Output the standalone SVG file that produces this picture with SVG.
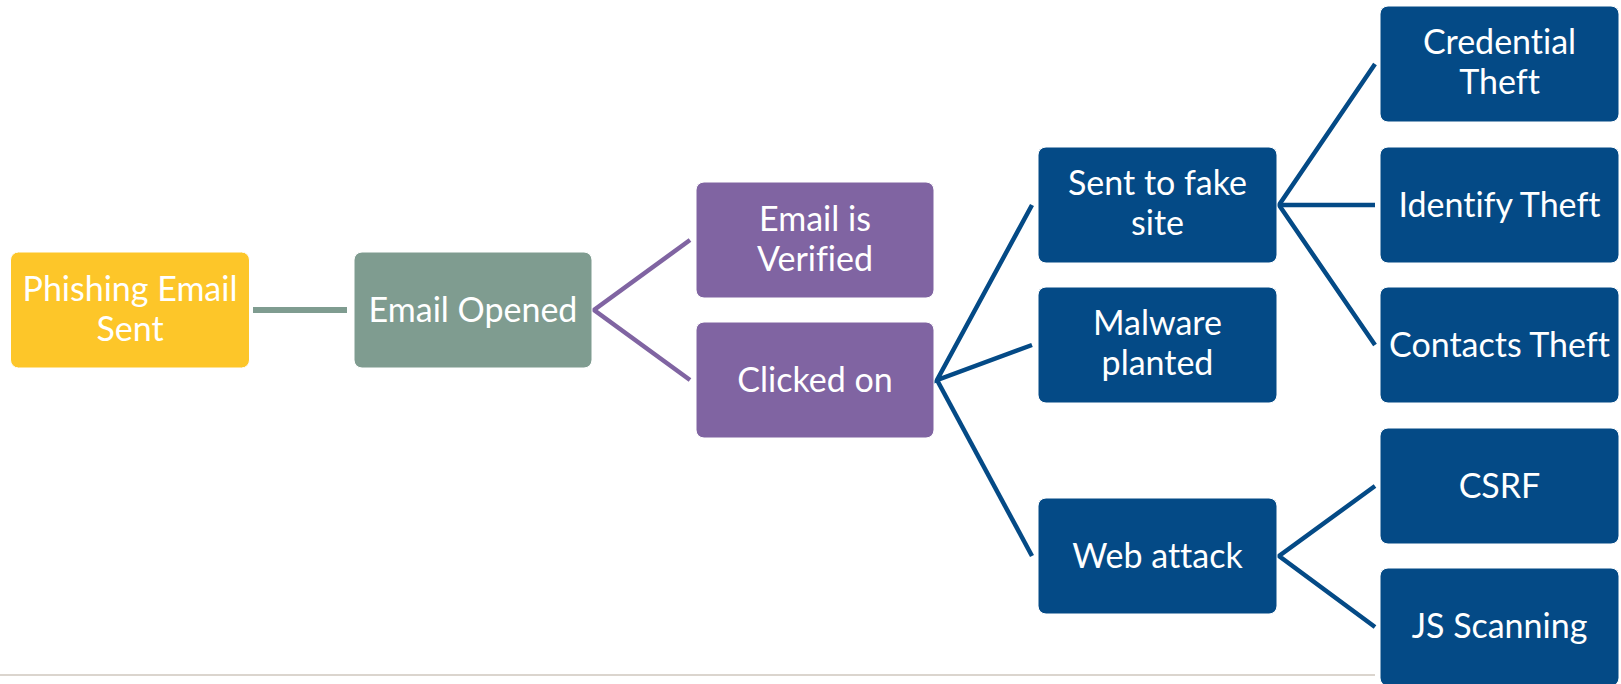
<svg xmlns="http://www.w3.org/2000/svg" width="1621" height="684" viewBox="0 0 1621 684">
  <style>
    .box { stroke: #ffffff; stroke-width: 1; }
    .yellow { fill: #FDC629; }
    .sage { fill: #7F9C90; }
    .purple { fill: #8064A2; }
    .blue { fill: #044A86; }
    .label { font-family: Lato, "Open Sans", sans-serif; font-size: 34px; fill: #ffffff; text-anchor: middle; font-variant-ligatures: none; }
    .link { fill: none; stroke-linecap: butt; stroke-linejoin: miter; }
    .link-sage { stroke: #7F9C90; stroke-width: 6; }
    .link-purple { stroke: #8064A2; stroke-width: 4.5; }
    .link-blue { stroke: #044A86; stroke-width: 4.5; }
  </style>
  <rect width="1621" height="684" fill="#ffffff"/>

  <!-- footer rule -->
  <line x1="0" y1="675" x2="1375" y2="675" stroke="#CFC7BE" stroke-width="1.5"/>

  <g id="connectors">
    <line class="link link-sage" x1="253" y1="310" x2="347" y2="310"/>
    <polyline class="link link-purple" points="690,240 594,310 690,380"/>
    <polyline class="link link-blue" points="1032,205 937,380 1032,345"/>
    <polyline class="link link-blue" points="937,380 1032,556"/>
    <polyline class="link link-blue" points="1375,64 1279,205 1375,345"/>
    <line class="link link-blue" x1="1279" y1="205" x2="1375" y2="205"/>
    <polyline class="link link-blue" points="1375,486 1279,556 1375,627"/>
  </g>

  <g id="phishing-email-sent">
    <rect class="box yellow" x="10.5" y="252" width="239" height="116" rx="8"/>
    <text class="label" x="130" y="301">Phishing Email</text>
    <text class="label" x="130" y="341">Sent</text>
  </g>

  <g id="email-opened">
    <rect class="box sage" x="354" y="252" width="238" height="116" rx="8"/>
    <text class="label" x="473" y="322">Email Opened</text>
  </g>

  <g id="email-verified">
    <rect class="box purple" x="696" y="182" width="238" height="116" rx="8"/>
    <text class="label" x="815" y="231">Email is</text>
    <text class="label" x="815" y="271">Verified</text>
  </g>

  <g id="clicked-on">
    <rect class="box purple" x="696" y="322" width="238" height="116" rx="8"/>
    <text class="label" x="815" y="392">Clicked on</text>
  </g>

  <g id="sent-to-fake-site">
    <rect class="box blue" x="1038" y="147" width="239" height="116" rx="8"/>
    <text class="label" x="1157.5" y="195">Sent to fake</text>
    <text class="label" x="1157.5" y="235">site</text>
  </g>

  <g id="malware-planted">
    <rect class="box blue" x="1038" y="287" width="239" height="116" rx="8"/>
    <text class="label" x="1157.5" y="335">Malware</text>
    <text class="label" x="1157.5" y="375">planted</text>
  </g>

  <g id="web-attack">
    <rect class="box blue" x="1038" y="498" width="239" height="116" rx="8"/>
    <text class="label" x="1157.5" y="568">Web attack</text>
  </g>

  <g id="credential-theft">
    <rect class="box blue" x="1380" y="6" width="239" height="116" rx="8"/>
    <text class="label" x="1499.5" y="54">Credential</text>
    <text class="label" x="1499.5" y="94">Theft</text>
  </g>

  <g id="identify-theft">
    <rect class="box blue" x="1380" y="147" width="239" height="116" rx="8"/>
    <text class="label" x="1499.5" y="217">Identify Theft</text>
  </g>

  <g id="contacts-theft">
    <rect class="box blue" x="1380" y="287" width="239" height="116" rx="8"/>
    <text class="label" x="1499.5" y="357">Contacts Theft</text>
  </g>

  <g id="csrf">
    <rect class="box blue" x="1380" y="428" width="239" height="116" rx="8"/>
    <text class="label" x="1499.5" y="498">CSRF</text>
  </g>

  <g id="js-scanning">
    <rect class="box blue" x="1380" y="568" width="239" height="118" rx="8"/>
    <text class="label" x="1499.5" y="638">JS Scanning</text>
  </g>
</svg>
